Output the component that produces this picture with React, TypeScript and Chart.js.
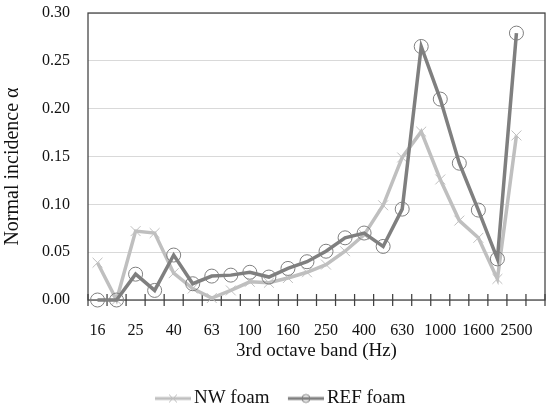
import React, { useEffect, useRef } from 'react';
import { Chart, registerables } from 'chart.js';

Chart.register(...registerables);

// 1/3 octave band centre frequencies (last slot is empty in the reference)
const bands = ['16', '20', '25', '31.5', '40', '50', '63', '80', '100', '125', '160', '200', '250', '315', '400', '500', '630', '800', '1000', '1250', '1600', '2000', '2500', '3150'];

const nwFoam = [0.039, 0.000, 0.072, 0.070, 0.028, 0.012, 0.002, 0.010, 0.019, 0.018, 0.023, 0.029, 0.037, 0.051, 0.068, 0.099, 0.149, 0.176, 0.126, 0.083, 0.065, 0.022, 0.172, null];

const refFoam = [0.000, 0.000, 0.027, 0.010, 0.047, 0.017, 0.025, 0.026, 0.029, 0.024, 0.033, 0.040, 0.051, 0.065, 0.070, 0.056, 0.095, 0.265, 0.210, 0.143, 0.094, 0.043, 0.279, null];

const seriesNames = ['NW foam', 'REF foam'];

const NW_COLOR = '#bfbfbf';
const REF_COLOR = '#7f7f7f';
const AXIS_COLOR = '#404040';
const GRID_COLOR = '#d9d9d9';
const TEXT_COLOR = '#111111';
const FONT = "'Liberation Serif', 'Times New Roman', serif";

function makeLegendIcon(color: string, marker: 'cross' | 'circle'): HTMLCanvasElement {
  const c = document.createElement('canvas');
  c.width = 58;
  c.height = 12;
  const ctx = c.getContext('2d')!;
  ctx.strokeStyle = color;
  ctx.lineWidth = 3;
  ctx.beginPath();
  ctx.moveTo(22, 6);
  ctx.lineTo(58, 6);
  ctx.stroke();
  ctx.lineWidth = 1;
  const cx = 40;
  const cy = 6;
  const r = 4;
  ctx.beginPath();
  if (marker === 'circle') {
    ctx.arc(cx, cy, r, 0, Math.PI * 2);
  } else {
    ctx.moveTo(cx - r, cy - r);
    ctx.lineTo(cx + r, cy + r);
    ctx.moveTo(cx - r, cy + r);
    ctx.lineTo(cx + r, cy - r);
  }
  ctx.stroke();
  return c;
}

const framePlugin = {
  id: 'frame',
  beforeDatasetsDraw(chart: any) {
    const { ctx, chartArea: a } = chart;
    const x = chart.scales.x;
    ctx.save();
    ctx.strokeStyle = AXIS_COLOR;
    ctx.lineWidth = 1.25;
    ctx.strokeRect(a.left, a.top, a.right - a.left, a.bottom - a.top);
    const n = x.ticks.length;
    for (let i = 0; i <= n; i++) {
      let px: number;
      if (i === 0) px = a.left;
      else if (i === n) px = a.right;
      else px = (x.getPixelForTick(i - 1) + x.getPixelForTick(i)) / 2;
      ctx.beginPath();
      ctx.moveTo(px, a.bottom - 6);
      ctx.lineTo(px, a.bottom + 6);
      ctx.stroke();
    }
    ctx.restore();
  },
};

export default function App() {
  const canvasRef = useRef<HTMLCanvasElement | null>(null);

  useEffect(() => {
    document.body.style.margin = '0';
    const canvas = canvasRef.current;
    if (!canvas) return;
    const icons = [makeLegendIcon(NW_COLOR, 'cross'), makeLegendIcon(REF_COLOR, 'circle')];

    const chart = new Chart(canvas, {
      type: 'line',
      data: {
        labels: bands,
        datasets: [
          {
            label: seriesNames[0],
            data: nwFoam,
            borderColor: NW_COLOR,
            backgroundColor: 'transparent',
            borderWidth: 3.5,
            pointStyle: 'crossRot',
            pointRadius: 7,
            pointBorderWidth: 1,
            pointBorderColor: NW_COLOR,
            pointBackgroundColor: 'transparent',
            tension: 0,
            clip: false as any,
            order: 1,
          },
          {
            label: seriesNames[1],
            data: refFoam,
            borderColor: REF_COLOR,
            backgroundColor: 'transparent',
            borderWidth: 3.5,
            pointStyle: 'circle',
            pointRadius: 7,
            pointBorderWidth: 1,
            pointBorderColor: REF_COLOR,
            pointBackgroundColor: 'transparent',
            tension: 0,
            clip: false as any,
            order: 0,
          },
        ],
      },
      options: {
        responsive: false,
        animation: false,
        events: [],
        layout: { autoPadding: false, padding: { top: 13, right: 5, left: 0, bottom: -8 } },
        plugins: {
          tooltip: { enabled: false },
          legend: {
            position: 'bottom',
            labels: {
              usePointStyle: true,
              pointStyleWidth: 45,
              padding: 3,
              color: TEXT_COLOR,
              font: { family: FONT, size: 19 },
              generateLabels: (ch: any) =>
                [0, 1].map((i) => ({
                  text: seriesNames[i],
                  pointStyle: icons[i],
                  datasetIndex: i,
                  fillStyle: 'transparent',
                  strokeStyle: 'transparent',
                  lineWidth: 0,
                  fontColor: TEXT_COLOR,
                  hidden: !ch.isDatasetVisible(i),
                })),
            },
          },
        },
        scales: {
          x: {
            type: 'category',
            offset: true,
            grid: { display: false, offset: true },
            border: { display: false },
            ticks: {
              autoSkip: false,
              maxRotation: 0,
              minRotation: 0,
              padding: 13,
              color: TEXT_COLOR,
              font: { family: FONT, size: 16 },
              callback: (_v: any, i: number) => (i % 2 === 0 ? bands[i] : ''),
            },
            title: {
              display: true,
              text: '3rd octave band (Hz)',
              color: TEXT_COLOR,
              font: { family: FONT, size: 19 },
              padding: { top: 0, bottom: 24 },
            },
            afterFit: (s: any) => {
              s.height = 86;
            },
          },
          y: {
            min: 0,
            max: 0.3,
            grid: { color: GRID_COLOR, drawTicks: true, tickLength: 18, tickColor: 'transparent', lineWidth: 1 },
            border: { display: false },
            ticks: {
              stepSize: 0.05,
              padding: 0,
              color: TEXT_COLOR,
              font: { family: FONT, size: 16 },
              callback: (v: any) => Number(v).toFixed(2),
            },
            title: {
              display: true,
              text: 'Normal incidence α\u2002\u2002',
              color: TEXT_COLOR,
              font: { family: FONT, size: 20 },
              padding: { top: 1, bottom: 0 },
            },
            afterFit: (s: any) => {
              s.width = 88;
            },
          },
        },
      } as any,
      plugins: [framePlugin],
    });

    return () => {
      chart.destroy();
    };
  }, []);

  return (
    <div style={{ width: 550, height: 410 }}>
      <canvas ref={canvasRef} width={550} height={410} style={{ display: 'block' }} />
    </div>
  );
}
